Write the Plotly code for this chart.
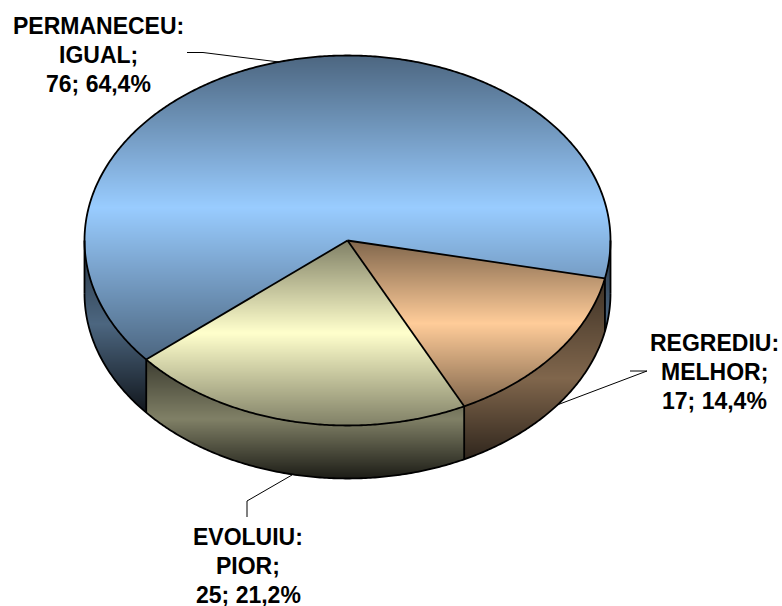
import numpy as np
import plotly.graph_objects as go

# ---- data
categories = [["REGREDIU:", "MELHOR;"], ["EVOLUIU:", "PIOR;"], ["PERMANECEU:", "IGUAL;"]]
values = [17, 25, 76]
top_colors = ["#FFCC99", "#FFFFCC", "#99CCFF"]

# ---- layout of the tilted pie (pixels of the page)
W, H = 782, 606
CX, CY, RX, RY, DEPTH = 347.5, 240.5, 263, 185, 53
START = 11.8   # degrees, first slice edge
OUT = 1.8

total = sum(values)
edges = START + np.concatenate([[0], np.cumsum(values)]) / total * 360.0

px = np.arange(W) + 0.5
py = np.arange(H) + 0.5
GX, GY = np.meshgrid(px, py)
U = (GX - CX) / RX
V = (GY - CY) / RY
ANG = np.degrees(np.arctan2(V, U)) % 360


def scale(hexcol, f):
    r, g, b = int(hexcol[1:3], 16), int(hexcol[3:5], 16), int(hexcol[5:7], 16)
    return f"rgb({round(r*f)},{round(g*f)},{round(b*f)})"


def in_range(a0, a1):
    a0m, a1m = a0 % 360, a1 % 360
    return (ANG >= a0m) & (ANG <= a1m) if a0m <= a1m else (ANG >= a0m) | (ANG <= a1m)


def pt(a, drop=0.0):
    r = np.radians(a)
    return CX + RX * np.cos(r), CY + RY * np.sin(r) + drop


def heat(mask, y0, y1, colorscale):
    ys, xs = np.where(mask)
    i0, i1, j0, j1 = ys.min(), ys.max() + 1, xs.min(), xs.max() + 1
    z = (GY[i0:i1, j0:j1] - y0) / (y1 - y0)
    z = np.where(mask[i0:i1, j0:j1], np.clip(z, 0, 1), np.nan)
    return go.Heatmap(x=px[j0:j1], y=py[i0:i1], z=z, zmin=0, zmax=1,
                      colorscale=colorscale, showscale=False, hoverinfo="skip")


def wall_mask(a0, a1):
    xa, xb = sorted([pt(a0)[0], pt(a1)[0]])
    u = np.clip(U, -1, 1)
    ytop = CY + RY * np.sqrt(1 - u ** 2)
    return (GX >= xa) & (GX <= xb) & (GY >= ytop - 1) & (GY <= ytop + DEPTH)


def wall_scale(c):
    return [[0, scale(c, 0.24)], [0.5, scale(c, 0.5)], [1, scale(c, 0.11)]]


def top_scale(c):
    return [[0, scale(c, 0.5)], [0.5, scale(c, 1)], [1, scale(c, 0.5)]]


fig = go.Figure()

# walls: front half of the rim only
orange, yellow, blue = top_colors
walls = [
    (edges[2], 180, blue, CY - 5, CY + 172),
    (0, edges[0], blue, CY - 5, CY + 172),
    (edges[0], edges[1], orange, pt(edges[0])[1], CY + RY + DEPTH),
    (edges[1], edges[2], yellow, pt(edges[2])[1], CY + RY + DEPTH),
]
for a0, a1, c, y0, y1 in walls:
    fig.add_trace(heat(wall_mask(a0, a1), y0, y1, wall_scale(c)))

# top faces: gradient over the box of each slice
ins = U ** 2 + V ** 2 <= 1
top_boxes = [(CY, pt(edges[1])[1]), (CY, CY + RY), (CY - RY, pt(edges[2])[1])]
for i, c in enumerate(top_colors):
    m = ins & in_range(edges[i], edges[i + 1])
    fig.add_trace(heat(m, top_boxes[i][0], top_boxes[i][1], top_scale(c)))


def line(xs, ys, w=OUT):
    fig.add_trace(go.Scatter(x=xs, y=ys, mode="lines", hoverinfo="skip",
                             line=dict(color="black", width=w, simplify=False)))


# outlines
th = np.linspace(0, 360, 721)
ex, ey = pt(th)
line(ex, ey)
bt = np.linspace(0, 180, 361)
bx, by = pt(bt, DEPTH)
line(bx, by)
for a in (0, 180, edges[0], edges[1], edges[2]):
    x0, y0 = pt(a)
    line([x0, x0], [y0, y0 + DEPTH])
for a in edges[:3]:
    x0, y0 = pt(a)
    line([CX, x0], [CY, y0])

# leader lines
line([630, 647, 557], [371, 371, 405], 1)
line([247, 247, 292], [517, 501, 475], 1)
line([187, 203, 279], [52.5, 52.5, 62], 1)

# labels
label_pos = [(714, 372), (248, 566), (98, 55)]
LINE_GAP = 28.7
for names, v, (x, y) in zip(categories, values, label_pos):
    pct = f"{v / total * 100:.1f}".replace(".", ",")
    for k, txt in enumerate(names + [f"{v}; {pct}%"]):
        fig.add_annotation(x=x, y=y + (k - 1) * LINE_GAP, xref="x", yref="y", showarrow=False,
                           text=f"<b>{txt}</b>",
                           font=dict(family="Liberation Sans, Arial, sans-serif", size=23, color="black"))

fig.update_layout(width=W, height=H, margin=dict(l=0, r=0, t=0, b=0),
                  paper_bgcolor="white", plot_bgcolor="white", showlegend=False,
                  xaxis=dict(range=[0, W], visible=False, fixedrange=True),
                  yaxis=dict(range=[H, 0], visible=False, fixedrange=True))
fig.write_html("out.html", config={"displayModeBar": False},
               post_script="document.body.style.margin='0';document.documentElement.style.overflow='hidden';")
